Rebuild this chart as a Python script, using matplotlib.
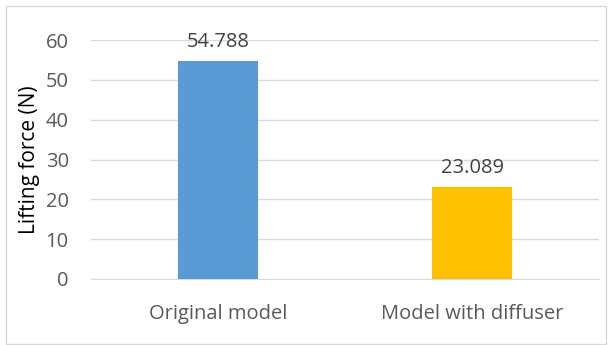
import matplotlib.pyplot as plt
from matplotlib.patches import Rectangle

plt.rcParams['font.family'] = ['Open Sans', 'DejaVu Sans']

models = ['Original model', 'Model with diffuser']
lift = [54.788, 23.089]
bar_colors = ['#5B9BD5', '#FFC000']
yticks = [0, 10, 20, 30, 40, 50, 60]

fig = plt.figure(figsize=(6.13, 3.45), dpi=100)
ax = fig.add_axes([91 / 613, (345 - 279) / 345, (599 - 91) / 613, 239 / 345])

x = range(len(models))
bars = ax.bar(x, lift, width=0.315, color=bar_colors, zorder=3)
for b, v in zip(bars, lift):
    ax.text(b.get_x() + b.get_width() / 2, v + 2.3, f'{v:.3f}',
            ha='center', va='bottom', fontsize=14.5, color='#404040')

ax.set_xlim(-0.5, 1.5)
ax.set_ylim(0, 60)
ax.set_yticks(yticks)
ax.set_xticks(list(x))
ax.set_xticklabels(models)
ax.tick_params(axis='both', length=0, labelsize=14.5, labelcolor='#595959')
ax.tick_params(axis='y', pad=16)
ax.tick_params(axis='x', pad=18)
ax.grid(axis='y', color='#D9D9D9', linewidth=1, zorder=0)
for s in ['top', 'right', 'left']:
    ax.spines[s].set_visible(False)
ax.spines['bottom'].set_color('#D9D9D9')
ax.set_ylabel('Lifting force (N)', fontsize=15, color='black', labelpad=4)

# chart-area frame
fig.patches.append(Rectangle((6 / 613, 1 / 345), 600 / 613, 338 / 345,
                             transform=fig.transFigure, fill=False,
                             edgecolor='#D9D9D9', linewidth=1))

fig.savefig('out.png', dpi=100)
